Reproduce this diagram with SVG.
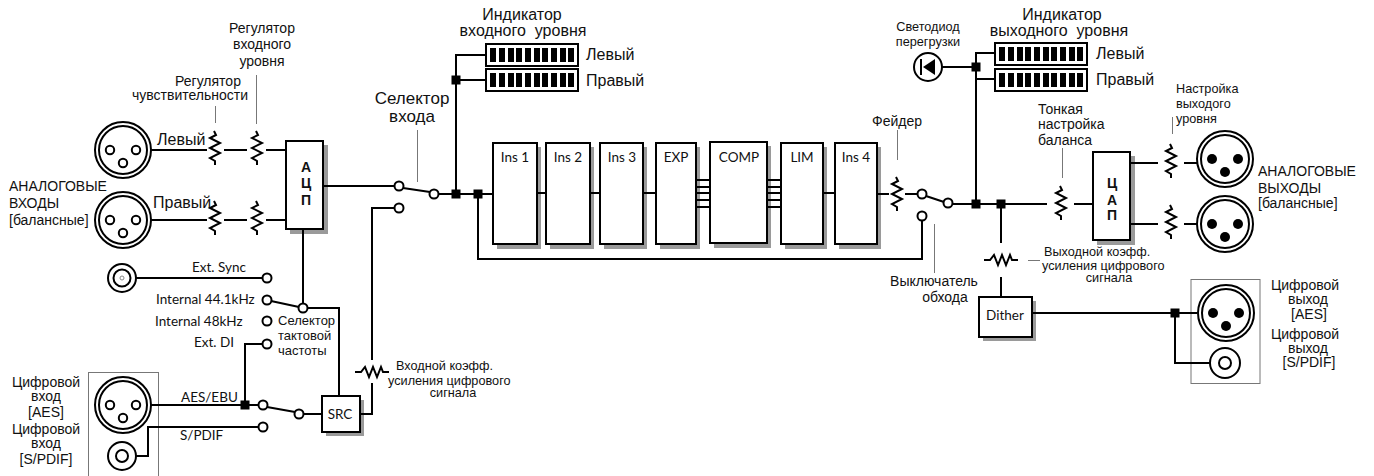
<svg xmlns="http://www.w3.org/2000/svg" xmlns:xlink="http://www.w3.org/1999/xlink" width="1374" height="476" viewBox="0 0 1374 476">
<style>
text{font-family:"Liberation Sans",Arial,sans-serif;fill:#111}
.g{font-family:Lato,"Liberation Sans",sans-serif;font-size:13.5px}
.m{text-anchor:middle}
.s11{font-size:12.7px}.s12{font-size:14px}.s13{font-size:14px}.s14{font-size:16px}.s15{font-size:13px}
.b{font-weight:bold;font-size:14px;text-anchor:middle}
.w{fill:none;stroke:#000;stroke-width:2}
.t{fill:#fff;stroke:#000;stroke-width:2}
.l{stroke:#777;stroke-width:1;fill:none}
.f{fill:#000;stroke:none}
</style>
<defs>
<path id="rv" class="w" d="M-1-17 L1-13 L-5-10 L5-5 L-5 0 L5 5 L-5 10 L0 13 L0 17"/>
<path id="rh" class="w" d="M-17 0 H-11 L-7 -5 L-3 5 L1 -5 L5 5 L9 -5 L11 0 H17"/>
<rect id="n" class="f" x="-4.5" y="-4.5" width="9" height="9"/>
<g id="xo"><circle class="t" r="28"/><circle class="t" r="24"/><circle class="t" cx="-13" r="4.2"/><circle class="t" cx="13" r="4.2"/><circle class="t" cy="13" r="4.2"/></g>
<g id="xf"><circle class="t" r="28"/><circle class="t" r="24"/><circle class="f" cx="-13" r="5"/><circle class="f" cx="13" r="5"/><circle class="f" cy="13" r="5"/></g>
<g id="vu"><rect class="t" width="92" height="22"/><g class="f"><rect x="4" y="4" width="6" height="14"/><rect x="13" y="4" width="6" height="14"/><rect x="22" y="4" width="6" height="14"/><rect x="30" y="4" width="6" height="14"/><rect x="39" y="4" width="6" height="14"/><rect x="48" y="4" width="6" height="14"/><rect x="56" y="4" width="6" height="14"/><rect x="65" y="4" width="6" height="14"/><rect x="74" y="4" width="6" height="14"/><rect x="82" y="4" width="6" height="14"/></g></g>
</defs>
<rect width="1374" height="476" fill="#fff"/>

<g id="leaders" class="l">
<path d="M215.500 106V123M256.500 75V124M417.500 130V182M897.500 130V160M1062.500 148V178M1172.500 117V134M934.500 224V273M1028 260.500H1040"/>
</g>

<g id="input-xlr-left"><use xlink:href="#xo" x="123" y="150"/><text class="s14" x="157" y="145">Левый</text></g>
<g id="input-xlr-right"><use xlink:href="#xo" x="123" y="220"/><text class="s14" x="153" y="208">Правый</text><text class="s13" x="9" y="191">АНАЛОГОВЫЕ</text><text class="s13" x="9" y="208">ВХОДЫ</text><text class="s13" x="9" y="225">[балансные]</text></g>
<g id="sens"><use xlink:href="#rv" x="215" y="148"/><use xlink:href="#rv" x="215" y="218"/><text class="s12 m" x="208" y="86">Регулятор</text><text class="s12 m" x="190" y="100">чувствительности</text></g>
<g id="level"><use xlink:href="#rv" x="257" y="148"/><use xlink:href="#rv" x="257" y="218"/><text class="s12 m" x="262" y="33">Регулятор</text><text class="s12 m" x="262" y="49">входного</text><text class="s12 m" x="262" y="66">уровня</text></g>
<g id="adc"><rect fill="#9a9a9a" x="290" y="145" width="38" height="89"/><rect class="t" x="286" y="141" width="37" height="88"/><text class="b" x="306" y="172">А</text><text class="b" x="306" y="188">Ц</text><text class="b" x="306" y="205">П</text></g>
<g id="input-select"><circle class="t" cx="399" cy="186" r="4.500"/><circle class="t" cx="399" cy="208" r="4.500"/><circle class="t" cx="434" cy="194" r="4.500"/><text class="m" font-size="17" x="412" y="104">Селектор</text><text class="m" font-size="17" x="412" y="122">входа</text></g>
<g id="in-meter"><use xlink:href="#vu" x="486" y="44"/><use xlink:href="#vu" x="486" y="69"/><text class="s14 m" x="522" y="20">Индикатор</text><text class="s14 m" x="523" y="36" xml:space="preserve">входного  уровня</text><text class="s14" x="586" y="60">Левый</text><text class="s14" x="586" y="86">Правый</text></g>

<g id="ins1"><rect fill="#9a9a9a" x="497" y="147" width="44" height="102"/><rect class="t" x="493" y="143" width="44" height="101"/><text class="g m" x="515" y="162">Ins 1</text></g>
<g id="ins2"><rect fill="#9a9a9a" x="550" y="147" width="44" height="102"/><rect class="t" x="546" y="143" width="44" height="101"/><text class="g m" x="568" y="162">Ins 2</text></g>
<g id="ins3"><rect fill="#9a9a9a" x="604" y="147" width="43" height="102"/><rect class="t" x="600" y="143" width="43" height="101"/><text class="g m" x="622" y="162">Ins 3</text></g>
<g id="exp"><rect fill="#9a9a9a" x="660" y="147" width="40" height="102"/><rect class="t" x="656" y="143" width="40" height="101"/><text class="g m" x="676" y="162">EXP</text></g>
<g id="comp"><rect fill="#9a9a9a" x="714" y="146" width="57" height="102"/><rect class="t" x="710" y="142" width="57" height="101"/><text class="g m" x="739" y="162">COMP</text></g>
<g id="lim"><rect fill="#9a9a9a" x="785" y="147" width="42" height="102"/><rect class="t" x="781" y="143" width="42" height="101"/><text class="g m" x="802" y="162">LIM</text></g>
<g id="ins4"><rect fill="#9a9a9a" x="839" y="147" width="42" height="102"/><rect class="t" x="835" y="143" width="42" height="101"/><text class="g m" x="856" y="162">Ins 4</text></g>

<g id="fader"><use xlink:href="#rv" x="897" y="194"/><text class="s12 m" x="897" y="126">Фейдер</text></g>
<g id="bypass"><circle class="t" cx="922" cy="194" r="4.500"/><circle class="t" cx="922" cy="216" r="4.500"/><circle class="t" cx="948" cy="203" r="4.500"/><text class="s12 m" x="934" y="286">Выключатель</text><text class="s12 m" x="945" y="302">обхода</text></g>
<g id="led"><circle class="t" cx="928" cy="67" r="14"/><path class="f" d="M923 67L935 59V75Z"/><path class="w" d="M921 59V75"/><text class="s11 m" x="928" y="31">Светодиод</text><text class="s11 m" x="928" y="46">перегрузки</text></g>
<g id="out-meter"><use xlink:href="#vu" x="995" y="43"/><use xlink:href="#vu" x="995" y="69"/><text class="s14 m" x="1062" y="20">Индикатор</text><text class="s14 m" x="1059" y="36" xml:space="preserve">выходного  уровня</text><text class="s14" x="1096" y="59">Левый</text><text class="s14" x="1096" y="85">Правый</text></g>
<g id="balance"><use xlink:href="#rv" x="1061" y="203"/><text class="s13" x="1038" y="114">Тонкая</text><text class="s13" x="1038" y="129">настройка</text><text class="s13" x="1038" y="145">баланса</text></g>
<g id="dac"><rect fill="#9a9a9a" x="1097" y="156" width="38" height="89"/><rect class="t" x="1093" y="152" width="37" height="88"/><text class="b" x="1112" y="188">Ц</text><text class="b" x="1112" y="205">А</text><text class="b" x="1112" y="220">П</text></g>
<g id="trim"><use xlink:href="#rv" x="1171" y="161"/><use xlink:href="#rv" x="1171" y="222"/><text class="s11" x="1176" y="93">Настройка</text><text class="s11" x="1176" y="108">выходого</text><text class="s11" x="1176" y="123">уровня</text></g>
<g id="out-xlr-1"><use xlink:href="#xf" x="1225" y="159"/><text class="s13" x="1258" y="176">АНАЛОГОВЫЕ</text><text class="s13" x="1258" y="193">ВЫХОДЫ</text><text class="s13" x="1258" y="208">[балансные]</text></g>
<g id="out-xlr-2"><use xlink:href="#xf" x="1225" y="224"/></g>
<g id="dig-out-gain"><use xlink:href="#rh" x="1001" y="260"/><text class="s11" x="1044" y="256">Выходной коэфф.</text><text class="s11" x="1042" y="270">усиления цифрового</text><text class="s11 m" x="1109" y="282">сигнала</text></g>
<g id="dither"><rect fill="#9a9a9a" x="983" y="301" width="53" height="40"/><rect class="t" x="979" y="297" width="53" height="40"/><text class="g m" x="1005" y="320">Dither</text></g>
<g id="dig-out"><rect x="1191" y="279.500" width="69" height="104" fill="none" stroke="#777"/><use xlink:href="#xf" x="1226" y="313"/><circle class="t" cx="1225" cy="363" r="15"/><circle class="t" cx="1225" cy="363" r="6"/><text class="s13 m" x="1305" y="290">Цифровой</text><text class="s13 m" x="1308" y="304">выход</text><text class="s13 m" x="1309" y="319">[AES]</text><text class="s13 m" x="1305" y="339">Цифровой</text><text class="s13 m" x="1308" y="353">выход</text><text class="s13 m" x="1309" y="367">[S/PDIF]</text></g>

<g id="ext-sync"><circle class="t" cx="122" cy="278" r="14"/><circle class="t" cx="122" cy="278" r="8.500" stroke-width="1.500"/><circle cx="122" cy="278" r="2" fill="none" stroke="#888"/><circle class="t" cx="267" cy="278" r="4.500"/><text class="g" x="192" y="272">Ext. Sync</text></g>
<g id="clock-select"><circle class="t" cx="267" cy="300" r="4.500"/><circle class="t" cx="267" cy="321" r="4.500"/><circle class="t" cx="267" cy="344" r="4.500"/><circle class="t" cx="303" cy="308" r="4.500"/><text class="g" x="156" y="304">Internal 44.1kHz</text><text class="g" x="155" y="326">Internal 48kHz</text><text class="g" x="194" y="347">Ext. DI</text><text class="s15" x="278" y="325">Селектор</text><text class="s15" x="278" y="340">тактовой</text><text class="s15" x="278" y="355">частоты</text></g>
<g id="dig-in"><rect x="88.500" y="372.500" width="70" height="104" fill="none" stroke="#777"/><use xlink:href="#xo" x="123" y="405"/><circle class="t" cx="122" cy="456" r="14"/><circle class="t" cx="122" cy="456" r="6"/><text class="s13 m" x="46" y="387">Цифровой</text><text class="s13 m" x="46" y="401">вход</text><text class="s13 m" x="46" y="417">[AES]</text><text class="s13 m" x="46" y="434">Цифровой</text><text class="s13 m" x="46" y="448">вход</text><text class="s13 m" x="46" y="464">[S/PDIF]</text></g>
<g id="dig-select"><circle class="t" cx="263" cy="405" r="4.500"/><circle class="t" cx="263" cy="427" r="4.500"/><circle class="t" cx="299" cy="414" r="4.500"/><text class="g" x="181" y="402">AES/EBU</text><text class="g" x="180" y="440">S/PDIF</text></g>
<g id="src"><rect fill="#9a9a9a" x="326" y="400" width="38" height="36"/><rect class="t" x="322" y="396" width="38" height="36"/><text class="g m" x="340" y="419">SRC</text></g>
<g id="dig-in-gain"><use xlink:href="#rh" x="372" y="372"/><text class="s11" x="396" y="370">Входной коэфф.</text><text class="s11" x="388" y="385">усиления цифрового</text><text class="s11 m" x="453" y="397">сигнала</text></g>

<g id="connectors" class="w">
<path d="M151 150H207M224 150H247M266 150H286"/>
<path d="M151 220H207M224 220H247M266 220H286"/>
<path d="M323 186H394M403 188L430 192M439 194H493"/>
<path d="M394 208H372V360M372 383V414H360"/>
<path d="M456 194V55H486M456 80H486"/>
<path d="M478 194V259H922V221"/>
<path d="M537 193H546M590 193H600M643 193H656M823 193H835M877 194H889"/>
<path d="M696 180H710M696 187H710M696 193H710M696 200H710M696 207H710M767 180H781M767 187H781M767 193H781M767 200H781M767 207H781"/>
<path d="M905 194H917M926 196L944 202M953 204H1047M1074 204H1093"/>
<path d="M976 204V53H995M976 79H995M942 67H976"/>
<path d="M1001 204V243M1001 277V297"/>
<path d="M1130 163H1158M1184 163H1197M1130 224H1158M1184 224H1197"/>
<path d="M1032 313H1197M1175 313V363H1210"/>
<path d="M136 278H262"/>
<path d="M303 229V303M271 301L299 307M308 308H339V396"/>
<path d="M262 344H245V405"/>
<path d="M151 405H258M267 407L295 412M304 414H322"/>
<path d="M258 427H148V456H136"/>
</g>
<g id="junctions"><use xlink:href="#n" x="456" y="194"/><use xlink:href="#n" x="456" y="80"/><use xlink:href="#n" x="478" y="194"/><use xlink:href="#n" x="976" y="204"/><use xlink:href="#n" x="1001" y="204"/><use xlink:href="#n" x="976" y="67"/><use xlink:href="#n" x="1175" y="313"/><use xlink:href="#n" x="245" y="405"/></g>
</svg>
